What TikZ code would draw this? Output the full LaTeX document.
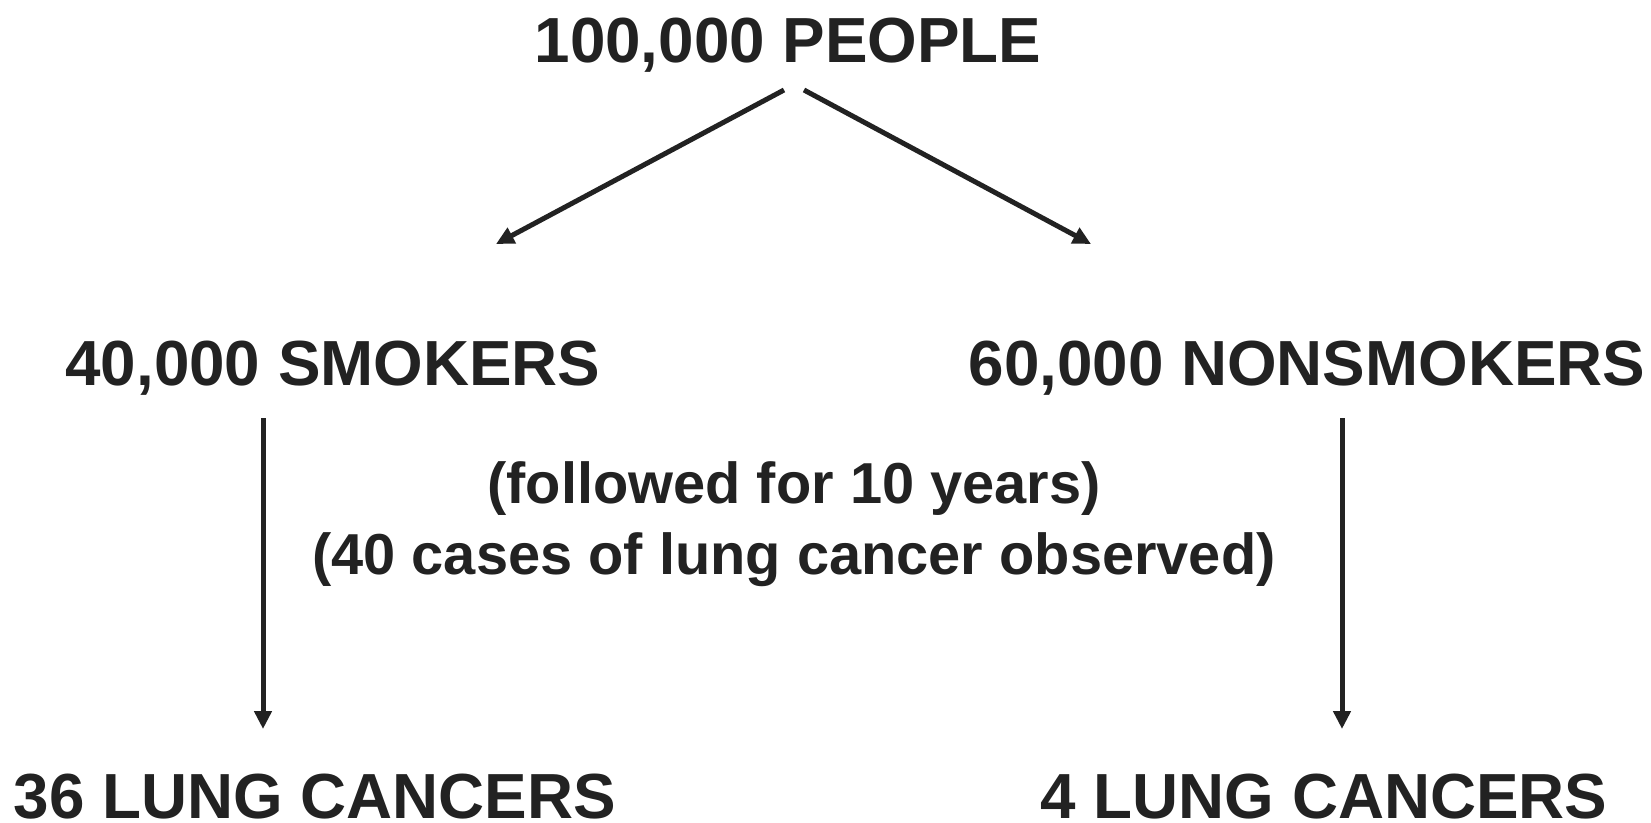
\documentclass[tikz,border=0pt]{standalone}
\usepackage{fontspec}
\setmainfont{Liberation Sans}
\usetikzlibrary{arrows.meta}
\definecolor{ink}{HTML}{222222}

\begin{document}
\begin{tikzpicture}[x=1bp,y=-1bp]
		\tikzset{>={Triangle[length=18bp,width=17bp]}}
		\tikzset{lbl/.style={anchor=base,inner sep=0pt,text=ink,font=\fontsize{64}{70}\selectfont\bfseries},
			note/.style={lbl,font=\fontsize{58}{66}\selectfont\bfseries},
			arr/.style={draw=ink,line width=5bp,->}}
		\useasboundingbox (0,0) rectangle (1651,823);
		\node[lbl] (people) at (788,62) {100,000 PEOPLE};
		\node[lbl] (smokers) at (333,385) {40,000 SMOKERS};
		\node[lbl] (nonsmokers) at (1307,385) {60,000 NONSMOKERS};
		\node[note] (followed) at (794,503) {(followed for 10 years)};
		\node[note] (observed) at (794,574) {(40 cases of lung cancer observed)};
		\node[lbl] (cancersS) at (315,818) {36 LUNG CANCERS};
		\node[lbl] (cancersN) at (1324,818) {4 LUNG CANCERS};
		% arrow ends
		\coordinate (pl) at (784,90);
		\coordinate (pr) at (804,90);
		\coordinate (sm) at (496,244);
		\coordinate (ns) at (1091,244);
		\coordinate (st) at (263,418);
		\coordinate (sb) at (263,729);
		\coordinate (nt) at (1342,418);
		\coordinate (nb) at (1342,729);
		\draw[arr] (pl) -- (sm);
		\draw[arr] (pr) -- (ns);
		\draw[arr] (st) -- (sb);
		\draw[arr] (nt) -- (nb);
	\end{tikzpicture}
\end{document}
